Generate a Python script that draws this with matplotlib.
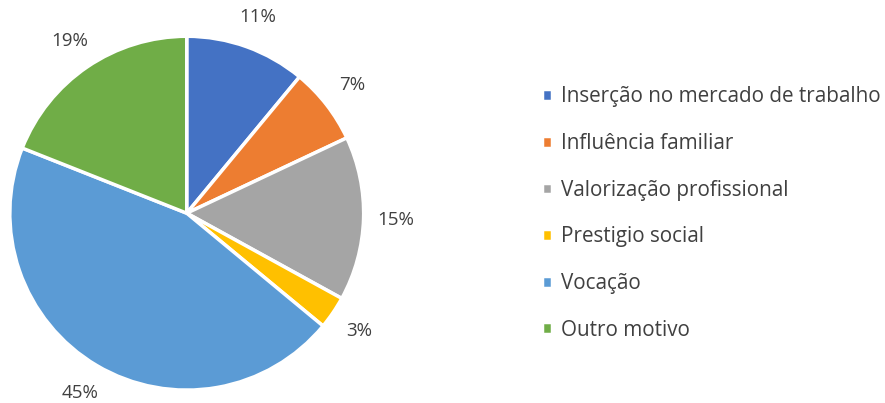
import matplotlib.pyplot as plt

# Data
labels = ["Inserção no mercado de trabalho", "Influência familiar",
          "Valorização profissional", "Prestigio social", "Vocação", "Outro motivo"]
values = [11, 7, 15, 3, 45, 19]
colors = ["#4472C4", "#ED7D31", "#A5A5A5", "#FFC000", "#5B9BD5", "#70AD47"]

plt.rcParams['font.family'] = ['Open Sans', 'DejaVu Sans']
txt_color = "#404040"

fig = plt.figure(figsize=(8.85, 4.03), dpi=100)
ax = fig.add_axes([0.011, 0.032, 0.4, 0.878])

wedges, texts, autotexts = ax.pie(
    values, colors=colors, startangle=90, counterclock=False,
    autopct=lambda p: f"{p:.0f}%", pctdistance=1.18,
    wedgeprops=dict(edgecolor="white", linewidth=2.5),
    textprops=dict(color=txt_color, fontsize=13.5))
ax.set_aspect("equal")
ax.set_xlim(-1, 1)
ax.set_ylim(-1, 1)

leg = fig.legend(wedges, labels, loc="center left", bbox_to_anchor=(0.612, 0.47),
                 frameon=False, fontsize=14.9, handlelength=0.5, handleheight=0.5,
                 handletextpad=0.45, labelspacing=1.24, labelcolor=txt_color,
                 borderpad=0, borderaxespad=0)

fig.savefig("out.png", dpi=100)
